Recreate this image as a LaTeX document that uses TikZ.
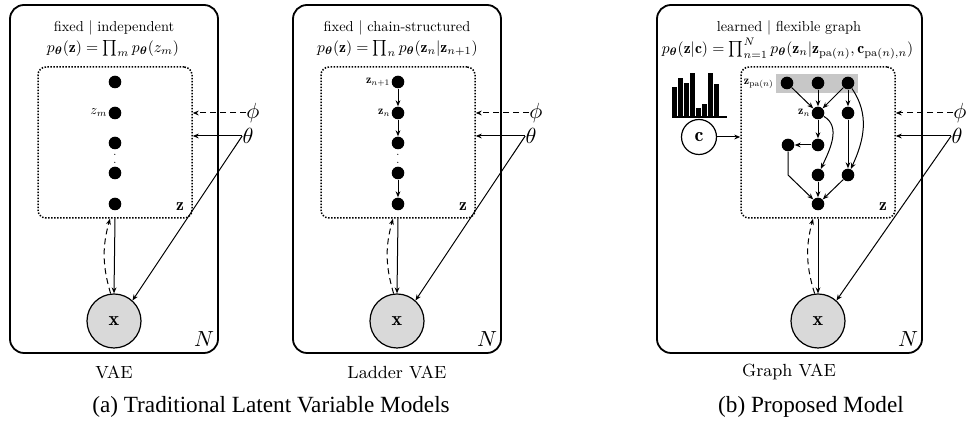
\documentclass[tikz,border=0pt]{standalone}
\usepackage{amsmath,bm,graphicx}
\usepackage{fontspec}
\newfontfamily\capfont{Liberation Serif}
\usetikzlibrary{arrows.meta}
\newcommand{\ttltxt}[1]{\scalebox{0.72}{#1}}
\newcommand{\frmtxt}[1]{\scalebox{0.78}{#1}}
\newcommand{\lbltxt}[1]{\scalebox{0.6}{#1}}
\begin{document}
\begin{tikzpicture}[x=0.5pt,y=-0.5pt,
  >={Stealth[length=3pt,width=2.4pt]},
  plate/.style={draw,line width=0.9pt,rounded corners=7pt,inner sep=0pt},
  zbox/.style={draw,line width=0.75pt,dash pattern=on 0.75pt off 0.75pt,rounded corners=4pt,inner sep=0pt,minimum width=77pt,minimum height=75.5pt},
  lat/.style={circle,fill=black,inner sep=0pt,minimum size=6.3pt},
  obs/.style={circle,draw,line width=0.6pt,fill=black!15,minimum size=27pt,inner sep=0pt},
  ttl/.style={font=\fontsize{10}{12}\selectfont,inner sep=0pt},
  sub/.style={font=\fontsize{8.8}{10}\selectfont,inner sep=0pt},
  captext/.style={font=\capfont\fontsize{11.6}{13}\selectfont,inner sep=0pt},
  big/.style={font=\fontsize{11}{12}\selectfont,inner sep=0pt},
  tinylbl/.style={font=\fontsize{10}{12}\selectfont,inner sep=0.4pt,anchor=east},
  conn/.style={->,line width=0.5pt},
  dconn/.style={->,line width=0.5pt,dashed,dash pattern=on 3pt off 2pt},
]
\useasboundingbox (0,0) rectangle (966,421);

%%%%%%%%%%%%%%%% Panel 1: VAE
\node[plate,minimum width=104pt,minimum height=174pt] (pl1) at (114,179) {};
\node[ttl] (t1) at (114,27.5) {\ttltxt{fixed | independent}};
\node[ttl] (f1) at (113,48.5) {\frmtxt{$p_{\bm\theta}(\mathbf{z})=\prod_m p_{\bm\theta}(z_m)$}};
\node[zbox] (zb1) at (115,142.5) {};
\node[lat] (v1) at (115,82) {};
\node[lat] (v2) at (115,113) {};
\node[lat] (v3) at (115,143) {};
\node[lat] (v4) at (115,173) {};
\node[lat] (v5) at (115,204) {};
\node[font=\fontsize{5}{5}\selectfont,inner sep=0pt] (vd1) at (115,157) {$\vdots$};
\node[tinylbl] (lzm) at (v2.west) {\scalebox{0.68}{$z_m$}};
\node[sub] (zl1) at (180,207) {$\mathbf{z}$};
\node[obs] (x1) at (114,321) {$\mathbf{x}$};
\node[big] (n1) at (204,339) {$N$};
\node[sub] (vae) at (114,372) {VAE};
\node[big] (phi1) at (253,113) {$\phi$};
\node[big] (th1) at (248,136) {$\theta$};
\draw[dconn] (phi1.west) -- (phi1.west -| zb1.east);
\draw[conn] (th1.west) -- (th1.west -| zb1.east);
\draw[conn] (th1.west) -- (x1.48);
\draw[conn] (zb1.south) -- (x1.north);
\draw[dconn] (x1.97) to[bend left=16] ([xshift=-2.5pt]zb1.south);

%%%%%%%%%%%%%%%% Panel 2: Ladder VAE
\node[plate,minimum width=104pt,minimum height=174pt] (pl2) at (397,179) {};
\node[ttl] (t2) at (397,27.5) {\ttltxt{fixed | chain-structured}};
\node[ttl] (f2) at (397.5,48.5) {\frmtxt{$p_{\bm\theta}(\mathbf{z})=\prod_n p_{\bm\theta}(\mathbf{z}_n|\mathbf{z}_{n+1})$}};
\node[zbox] (zb2) at (398,142.5) {};
\node[lat] (w1) at (398,82) {};
\node[lat] (w2) at (398,113) {};
\node[lat] (w3) at (398,143) {};
\node[lat] (w4) at (398,173) {};
\node[lat] (w5) at (398,204) {};
\node[font=\fontsize{5}{5}\selectfont,inner sep=0pt] (vd2) at (398,157) {$\vdots$};
\draw[conn] (w1) -- (w2);
\draw[conn] (w2) -- (w3);
\draw[conn] (w4) -- (w5);
\node[tinylbl] (lzn1) at (w1.west) {\lbltxt{$\mathbf{z}_{n+1}$}};
\node[tinylbl] (lzn) at (w2.west) {\lbltxt{$\mathbf{z}_n$}};
\node[sub] (zl2) at (463,207) {$\mathbf{z}$};
\node[obs] (x2) at (397,321) {$\mathbf{x}$};
\node[big] (n2) at (487,339) {$N$};
\node[sub] (lvae) at (397,372) {Ladder VAE};
\node[big] (phi2) at (536,113) {$\phi$};
\node[big] (th2) at (531,136) {$\theta$};
\draw[dconn] (phi2.west) -- (phi2.west -| zb2.east);
\draw[conn] (th2.west) -- (th2.west -| zb2.east);
\draw[conn] (th2.west) -- (x2.48);
\draw[conn] (zb2.south) -- (x2.north);
\draw[dconn] (x2.97) to[bend left=16] ([xshift=-2.5pt]zb2.south);

%%%%%%%%%%%%%%%% Panel 3: Graph VAE
\node[plate,minimum width=132.5pt,minimum height=174pt] (pl3) at (789.5,179) {};
\node[ttl] (t3) at (789,27.5) {\ttltxt{learned | flexible graph}};
\node[ttl] (f3) at (787.5,48.5) {\frmtxt{$p_{\bm\theta}(\mathbf{z}|\mathbf{c})=\prod_{n=1}^N p_{\bm\theta}(\mathbf{z}_n|\mathbf{z}_{\mathrm{pa}(n)},\mathbf{c}_{\mathrm{pa}(n),n})$}};
\node[zbox] (zb3) at (818,142.5) {};
\node[fill=black!22,inner sep=0pt,minimum width=41pt,minimum height=9.5pt] (pa) at (817,83.5) {};
\node[tinylbl] (lzpa) at ([xshift=-0.5pt]pa.west) {\lbltxt{$\mathbf{z}_{\mathrm{pa}(n)}$}};
\node[lat] (a1) at (787,83) {};
\node[lat] (a2) at (818,83) {};
\node[lat] (a3) at (848,83) {};
\node[lat] (b1) at (818,113) {};
\node[lat] (b2) at (848,113) {};
\node[lat] (c1) at (788,145) {};
\node[lat] (c2) at (818,145) {};
\node[lat] (d1) at (818,175) {};
\node[lat] (d2) at (848,175) {};
\node[lat] (e1) at (818,204) {};
\node[tinylbl] (lzn3) at (b1.west) {\lbltxt{$\mathbf{z}_n$}};
\draw[conn] (a1) -- (b1);
\draw[conn] (a2) -- (b1);
\draw[conn] (a3) -- (b1);
\draw[conn] (a3) -- (b2);
\draw[conn] (a3) to[out=-55,in=65] (d2);
\draw[conn] (b1) -- (c2);
\draw[conn] (b1) to[out=-30,in=65] (d1);
\draw[conn] (c2) -- (c1);
\draw[conn] (b2) -- (d2);
\draw[conn] (c1.south) -- (c1 |- d1) -- (e1);
\draw[conn] (d1) -- (e1);
\draw[conn] (d2) -- (e1);
\node[sub] (zl3) at (883,207) {$\mathbf{z}$};
\node[obs] (x3) at (818,321) {$\mathbf{x}$};
\node[big] (n3) at (908,339) {$N$};
\node[sub] (gvae) at (789,372) {Graph VAE};
\node[big] (phi3) at (960,113) {$\phi$};
\node[big] (th3) at (957,136) {$\theta$};
\draw[dconn] (phi3.west) -- (phi3.west -| zb3.east);
\draw[conn] (th3.west) -- (th3.west -| zb3.east);
\draw[conn] (th3.west) -- (x3.48);
\draw[conn] (zb3.south) -- (x3.north);
\draw[dconn] (x3.97) to[bend left=16] ([xshift=-2.5pt]zb3.south);
% condition node
\node[circle,draw,line width=0.6pt,fill=white,minimum size=17.5pt,inner sep=0pt] (cn) at (699,137) {$\mathbf{c}$};
\draw[conn] (cn.east) -- (cn.east -| zb3.west);
% histogram
\fill (672,117) rectangle (677,87);
\fill (678,117) rectangle (683,78);
\fill (684,117) rectangle (689,83);
\fill (690,117) rectangle (695,73);
\fill (696,117) rectangle (701,108);
\fill (702,117) rectangle (707,104);
\fill (708,117) rectangle (713,73);
\fill (714,117) rectangle (719,84);
\draw[line width=0.7pt] (672,117) -- (727,117);

%%%%%%%%%%%%%%%% captions
\node[captext] (capa) at (271,407) {(a) Traditional Latent Variable Models};
\node[captext] (capb) at (811,407) {(b) Proposed Model};
\end{tikzpicture}
\end{document}
